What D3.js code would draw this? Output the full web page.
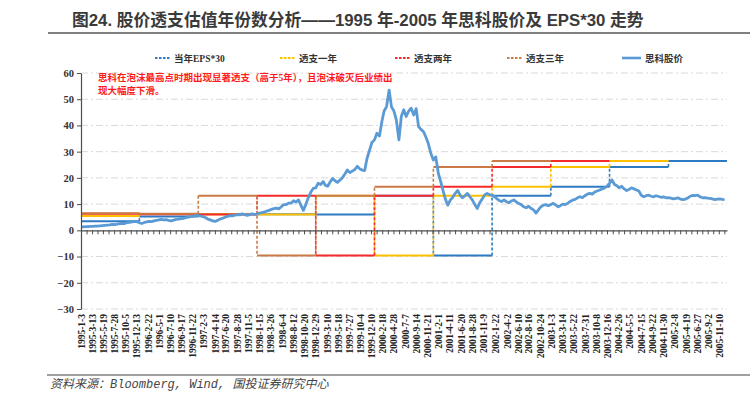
<!DOCTYPE html>
<html><head><meta charset="utf-8">
<script src="https://cdn.jsdelivr.net/npm/d3@7"></script>
<style>
body{margin:0;background:#fff;}
svg{display:block;}
</style></head><body>
<svg id="c" width="750" height="406"></svg>
<script>
// ---------- DATA ----------
const years = [1995,1996,1997,1998,1999,2000,2001,2002,2003,2004,2005];
const eps30 = [3.5, 5.3, 6.2, 6.1, 6.0, 13.2, -9.6, 13.2, 16.6, 24.2, 26.4];
const over1 = [5.5, 6.2, 6.1, 6.0, 13.2, -9.6, 13.2, 16.6, 24.2, 26.4, null];
const over2 = [6.3, 6.1, 6.0, 13.2, -9.6, 13.2, 16.6, 24.2, 26.4, null, null];
const over3 = [6.5, 6.3, 13.2, -9.6, 13.2, 16.6, 24.2, 26.4, null, null, null];

// Cisco price, two readings per month (1st & 16th)
const price1995 = [1.3,1.3,1.4,1.4,1.5,1.5,1.6,1.6,1.7,1.8,1.9,2.0,2.1,2.3,2.2,2.4,2.6,2.7,2.6,2.9,3.0,3.2,3.4,3.3];
const price1996 = [2.9,2.6,3.0,3.2,3.4,3.3,3.6,3.8,4.0,4.2,4.0,4.1,3.8,3.6,3.9,4.2,4.3,4.5,4.6,4.8,5.0,5.3,5.4,5.6];
const price1997 = [5.6,5.4,5.2,4.8,4.3,4.0,3.6,3.4,3.8,4.3,4.6,5.0,5.3,5.6,5.5,5.8,6.0,5.9,6.3,6.0,5.7,6.0,6.3,6.1];
const price1998 = [6.2,6.6,6.8,7.0,7.3,7.6,8.0,8.3,8.5,8.2,9.0,9.8,9.8,10.4,10.4,11.3,10.8,11.6,9.5,7.6,10.0,12.5,14.5,16.0];
const price1999 = [16.2,18.0,17.5,18.6,17.2,16.8,18.5,19.8,18.9,18.3,19.2,20.1,21.5,23.0,22.0,22.6,23.2,24.4,23.5,23.0,22.8,27.5,30.5,33.5];
const price2000 = [34.5,37.0,36.0,41.5,45.5,47.2,53.5,47.0,45.5,42.0,34.5,43.5,46.0,43.4,45.5,46.6,44.0,46.4,39.6,38.5,37.6,35.5,33.0,29.4];
const price2001 = [26.8,28.0,21.7,18.5,15.4,12.0,9.6,11.5,12.6,14.0,15.2,13.4,12.4,13.2,14.1,12.8,11.5,9.8,8.3,10.5,12.0,13.5,14.1,13.6];
const price2002 = [13.4,12.8,12.0,11.3,11.0,11.6,10.9,10.5,11.2,11.6,10.8,10.2,9.8,9.0,8.6,9.2,8.3,7.8,6.6,7.8,9.0,9.6,9.8,9.4];
const price2003 = [9.8,10.3,9.6,9.0,9.4,10.0,9.8,10.3,11.0,11.5,11.8,12.4,12.8,12.5,13.2,13.8,14.1,13.8,14.6,15.0,15.4,15.8,16.2,16.8];
const price2004 = [18.0,19.2,17.5,17.0,16.2,16.8,15.8,15.2,15.6,16.2,15.8,15.4,15.0,13.4,12.8,13.2,13.4,13.0,12.8,13.2,12.9,12.6,12.8,12.4];
const price2005 = [12.5,12.3,12.0,12.2,12.4,11.9,11.7,11.9,12.3,13.0,13.3,13.2,13.4,12.8,12.4,12.5,12.3,12.2,12.0,11.7,11.9,12.0,11.8,11.7];
const priceByYear = [price1995,price1996,price1997,price1998,price1999,price2000,price2001,price2002,price2003,price2004,price2005];

const tickLabels = ["1995-1-3","1995-3-13","1995-5-19","1995-7-28","1995-10-5","1995-12-13",
 "1996-2-22","1996-5-1","1996-7-10","1996-9-17","1996-11-22",
 "1997-2-3","1997-4-14","1997-6-20","1997-8-28","1997-11-5",
 "1998-1-15","1998-3-26","1998-6-4","1998-8-12","1998-10-20","1998-12-29",
 "1999-3-10","1999-5-18","1999-7-27","1999-10-4","1999-12-10",
 "2000-2-18","2000-4-28","2000-7-7","2000-9-14","2000-11-21",
 "2001-2-1","2001-4-11","2001-6-20","2001-8-28","2001-11-9",
 "2002-1-22","2002-4-2","2002-6-10","2002-8-16","2002-10-24",
 "2003-1-3","2003-3-14","2003-5-22","2003-7-31","2003-10-8","2003-12-16",
 "2004-2-26","2004-5-5","2004-7-15","2004-9-22","2004-11-30",
 "2005-2-8","2005-4-19","2005-6-27","2005-9-2","2005-11-10"];
const yTicks = [-30,-20,-10,0,10,20,30,40,50,60];
const seriesNames = ["当年EPS*30","透支一年","透支两年","透支三年","思科股价"];
const seriesColors = ["#2e7bc4","#ffc000","#f52a2a","#cc7a45","#5b9bd5"];
const titleText = "图24. 股价透支估值年份数分析——1995 年-2005 年思科股价及 EPS*30 走势";
const noteLines = ["思科在泡沫最高点时期出现显著透支（高于5年），且泡沫破灭后业绩出","现大幅度下滑。"];
const sourceText = "资料来源：Bloomberg, Wind, 国投证券研究中心";

// ---------- DRAW ----------
const svg = d3.select("#c");
const parse = d3.timeParse("%Y-%m-%d");
const start = new Date(1995,0,3), end = new Date(2005,11,31);
const x = d3.scaleTime().domain([start,end]).range([81,727]);
const y = d3.scaleLinear().domain([-30,60]).range([309,73]);

// title
svg.append("text").attr("x",72).attr("y",26)
  .attr("font-family","'Liberation Sans','Noto Sans CJK SC',sans-serif")
  .attr("font-weight","bold").attr("font-size",16.8).attr("fill","#3a3a3a")
  .text(titleText);
svg.append("line").attr("x1",48).attr("x2",750).attr("y1",33).attr("y2",33)
  .attr("stroke","#808080").attr("stroke-width",2);

// gridlines
svg.append("g").selectAll("line").data(yTicks.filter(d=>d!==0)).join("line")
  .attr("x1",81).attr("x2",727).attr("y1",d=>y(d)).attr("y2",d=>y(d))
  .attr("stroke","#d9d9d9").attr("stroke-width",1).attr("stroke-dasharray","7,3,2,3");

// step series
const stepSeries = [eps30, over1, over2, over3];
const lineGen = d3.line().x(d=>x(d[0])).y(d=>y(d[1]));
stepSeries.forEach((vals,si)=>{
  const g = svg.append("g");
  vals.forEach((v,i)=>{
    if(v==null) return;
    const d0 = i===0 ? start : new Date(years[i],0,1);
    const d1 = i===years.length-1 ? end : new Date(years[i]+1,0,1);
    g.append("path").attr("d", lineGen([[d0,v],[d1,v]]))
      .attr("stroke",seriesColors[si]).attr("stroke-width",2).attr("fill","none");
    if(i<vals.length-1 && vals[i+1]!=null){
      g.append("path").attr("d", lineGen([[d1,v],[d1,vals[i+1]]]))
        .attr("stroke",seriesColors[si]).attr("stroke-width",1.6).attr("fill","none")
        .attr("stroke-dasharray","3,2");
    }
  });
});

// price line
const priceData = [];
priceByYear.forEach((arr,yi)=>{
  arr.forEach((v,k)=>{
    let d = new Date(years[yi], Math.floor(k/2), k%2 ? 16 : 1);
    if(d<start) d = start;
    priceData.push([d,v]);
  });
});
svg.append("path").attr("d", lineGen(priceData))
  .attr("stroke",seriesColors[4]).attr("stroke-width",2.8).attr("fill","none")
  .attr("stroke-linejoin","round");

// x tick marks on zero line
const labelDates = tickLabels.map(parse);
const tickDates = [];
labelDates.forEach((d,i)=>{
  tickDates.push(d);
  const nxt = i<labelDates.length-1 ? labelDates[i+1] : new Date(+d + (d - labelDates[i-1]));
  const mid = new Date((+d + +nxt)/2);
  if(mid<=end) tickDates.push(mid);
});
const xAxisG = svg.append("g").attr("transform",`translate(0,${y(0)})`)
  .call(d3.axisBottom(x).tickValues(tickDates).tickSize(4).tickSizeOuter(0).tickFormat(""));
xAxisG.select(".domain").attr("stroke","#4d4d4d").attr("stroke-width",1.3);
xAxisG.selectAll(".tick line").attr("stroke","#4d4d4d");

// x labels at bottom
const xLab = svg.append("g").attr("transform","translate(0,314)")
  .call(d3.axisBottom(x).tickValues(labelDates).tickSize(0).tickFormat((d,i)=>tickLabels[i]));
xLab.select(".domain").remove();
xLab.selectAll(".tick text")
  .attr("transform","rotate(-90)").attr("text-anchor","end")
  .attr("x",0).attr("y",0).attr("dy","0.35em")
  .attr("font-family","'Liberation Serif',serif").attr("font-weight","bold")
  .attr("font-size",9.5).attr("fill","#222");

// y axis
const yAxisG = svg.append("g").attr("transform","translate(81,0)")
  .call(d3.axisLeft(y).tickValues(yTicks).tickSize(4).tickSizeOuter(0).tickPadding(3));
yAxisG.select(".domain").attr("stroke","#4d4d4d").attr("stroke-width",1.2);
yAxisG.selectAll(".tick line").attr("stroke","#4d4d4d");
yAxisG.selectAll(".tick text").attr("font-family","'Liberation Serif',serif")
  .attr("font-weight","bold").attr("font-size",10.5).attr("fill","#333");

// legend
const legX = [155,280,395,507,622];
const leg = svg.append("g");
seriesNames.forEach((n,i)=>{
  const len = i===4 ? 19 : 15;
  leg.append("line").attr("x1",legX[i]).attr("x2",legX[i]+len).attr("y1",58).attr("y2",58)
    .attr("stroke",seriesColors[i]).attr("stroke-width", i===4 ? 2.6 : 1.8)
    .attr("stroke-dasharray", i===4 ? null : "2.5,1.5");
  leg.append("text").attr("x",legX[i]+len+4).attr("y",61.5)
    .attr("font-family","'Liberation Serif','Noto Sans CJK SC',serif")
    .attr("font-weight","bold").attr("font-size",9.5).attr("fill","#333").text(n);
});

// annotation
noteLines.forEach((t,i)=>{
  svg.append("text").attr("x",98).attr("y",81+i*13)
    .attr("font-family","'Liberation Serif','Noto Sans CJK SC',serif")
    .attr("font-weight","bold").attr("font-size",9.5).attr("fill","#ff1a1a").text(t);
});

// footer
svg.append("line").attr("x1",47).attr("x2",750).attr("y1",375).attr("y2",375)
  .attr("stroke","#808080").attr("stroke-width",1.5);
svg.append("text").attr("x",50).attr("y",388)
  .attr("font-family","'Liberation Mono','Noto Sans CJK SC',monospace")
  .attr("font-style","italic").attr("font-size",12).attr("fill","#444").text(sourceText);
</script>
</body></html>
